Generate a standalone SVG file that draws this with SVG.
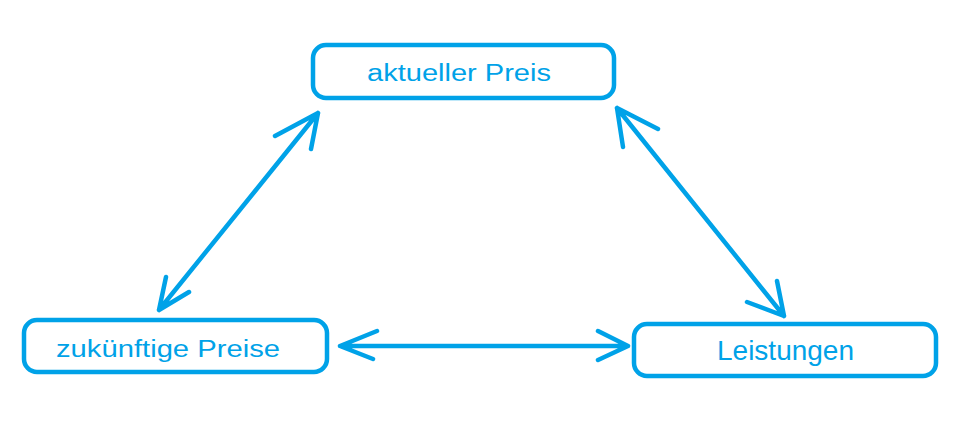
<svg xmlns="http://www.w3.org/2000/svg" width="965" height="427" viewBox="0 0 965 427">
<style>
.box{fill:#fff;stroke:#00a2e8;stroke-width:4.5}
.lbl{font-family:"Liberation Sans",Arial,sans-serif;fill:#00a2e8}
.con{fill:none;stroke:#00a2e8;stroke-width:4.5;stroke-linecap:round;stroke-linejoin:round}
</style>
<rect width="965" height="427" fill="#fff"/>
<g id="connectors">
<path class="con" d="M318,113 L159,310 M275,136 L318,113 L311,149 M166,277 L159,310 L189,292"/>
<path class="con" d="M617,108 L784,316 M658,129 L617,108 L623,147 M777,281 L784,316 L747,302"/>
<path class="con" d="M340,346 L628,346 M377,331 L340,346 L373,359 M598,331 L628,346 L598,360"/>
</g>
<g id="node-aktueller">
<rect class="box" x="313" y="45" width="301" height="53" rx="13" ry="13"/>
<text class="lbl" x="367" y="81" font-size="23" textLength="184" lengthAdjust="spacingAndGlyphs">aktueller Preis</text>
</g>
<g id="node-zukuenftige">
<rect class="box" x="24" y="320" width="303" height="52" rx="13" ry="13"/>
<text class="lbl" x="56" y="357" font-size="23" textLength="224" lengthAdjust="spacingAndGlyphs">zukünftige Preise</text>
</g>
<g id="node-leistungen">
<rect class="box" x="634" y="324" width="302" height="52" rx="13" ry="13"/>
<text class="lbl" x="717" y="360" font-size="28">Leistungen</text>
</g>
</svg>
